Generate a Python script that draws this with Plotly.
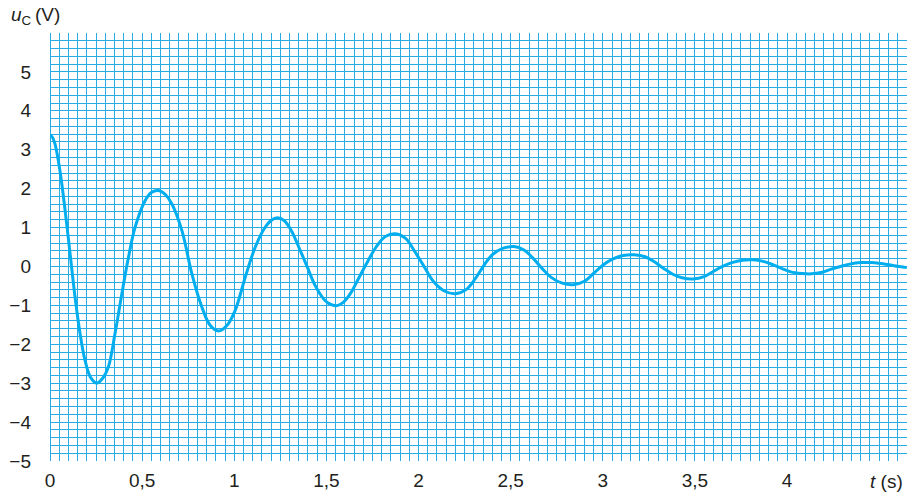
import plotly.graph_objects as go

# time (s) and capacitor voltage (V)
t_s = [0.00, 0.013, 0.027, 0.054, 0.082, 0.109, 0.136, 0.163, 0.19, 0.22, 0.254, 0.285, 0.317,
       0.353, 0.39, 0.426, 0.462, 0.516, 0.55, 0.589, 0.625, 0.661, 0.716, 0.77, 0.824,
       0.87, 0.915, 0.96, 1.005, 1.06, 1.11, 1.16, 1.20, 1.234, 1.27, 1.31, 1.35, 1.395,
       1.44, 1.49, 1.52, 1.554, 1.59, 1.63, 1.67, 1.715, 1.77, 1.82, 1.875, 1.93, 1.98,
       2.03, 2.08, 2.14, 2.20, 2.26, 2.31, 2.355, 2.40, 2.46, 2.518, 2.57, 2.62, 2.67,
       2.72, 2.78, 2.84, 2.90, 2.95, 3.00, 3.05, 3.11, 3.17, 3.23, 3.28, 3.33, 3.38, 3.43,
       3.49, 3.55, 3.60, 3.65, 3.70, 3.76, 3.815, 3.87, 3.92, 3.97, 4.02, 4.08, 4.13,
       4.19, 4.24, 4.29, 4.34, 4.40, 4.46, 4.52, 4.58, 4.65]
u_c = [3.38, 3.32, 3.15, 2.46, 1.44, 0.33, -0.79, -1.72, -2.41, -2.85, -3.00, -2.88, -2.58,
       -1.72, -0.70, 0.24, 1.01, 1.69, 1.90, 1.95, 1.85, 1.61, 0.92, -0.19, -1.04,
       -1.52, -1.66, -1.52, -1.13, -0.27, 0.45, 0.95, 1.18, 1.25, 1.18, 0.92, 0.50, 0.00,
       -0.50, -0.86, -0.97, -1.01, -0.93, -0.70, -0.35, 0.05, 0.50, 0.77, 0.84, 0.72, 0.38,
       0.00, -0.38, -0.63, -0.70, -0.59, -0.30, 0.03, 0.30, 0.47, 0.51, 0.43, 0.22, -0.05,
       -0.28, -0.43, -0.47, -0.38, -0.18, 0.03, 0.18, 0.28, 0.30, 0.25, 0.12, -0.05, -0.20, -0.29,
       -0.32, -0.26, -0.13, 0.00, 0.10, 0.16, 0.17, 0.13, 0.05, -0.05, -0.14, -0.18, -0.19,
       -0.15, -0.07, 0.00, 0.06, 0.10, 0.10, 0.07, 0.02, -0.03]

# axis ranges, tick labels and grid steps
x_range = [0, 4.651]
y_range = [-5, 6]
x_tickvals = [0, 0.5, 1, 1.5, 2, 2.5, 3, 3.5, 4]
x_ticktext = ["0", "0,5", "1", "1,5", "2", "2,5", "3", "3,5", "4"]
y_tickvals = [-5, -4, -3, -2, -1, 0, 1, 2, 3, 4, 5]
y_ticktext = ["\u22125", "\u22124", "\u22123", "\u22122", "\u22121", "0", "1", "2", "3", "4", "5"]
x_grid_step = 0.05
y_grid_step = 0.2

GRID = "#2aaae2"
CURVE = "#00aeef"
TEXT = "#231f20"
FONT = "Liberation Sans, Arial, sans-serif"

fig = go.Figure()
# grid-carrying overlay subplot (invisible copy of the data)
fig.add_trace(go.Scatter(x=t_s, y=u_c, xaxis="x2", yaxis="y2", mode="lines",
                         line=dict(width=0), opacity=0, hoverinfo="skip", showlegend=False))
# the curve
fig.add_trace(go.Scatter(x=t_s, y=u_c, mode="lines",
                         line=dict(color=CURVE, width=3, shape="spline", smoothing=1.0),
                         hoverinfo="skip", showlegend=False))

fig.update_layout(
    width=907, height=496,
    margin=dict(l=50, r=0, t=33, b=35),
    paper_bgcolor="white", plot_bgcolor="white",
    font=dict(family=FONT, size=19, color=TEXT),
    showlegend=False,
    xaxis=dict(range=x_range, tickvals=x_tickvals, ticktext=x_ticktext,
               showgrid=False, zeroline=False, showline=False, ticks="",
               ticklabelstandoff=6, fixedrange=True),
    yaxis=dict(range=y_range, tickvals=y_tickvals, ticktext=y_ticktext,
               showgrid=False, zeroline=False, showline=False, ticks="",
               ticklabelstandoff=18, fixedrange=True),
    xaxis2=dict(range=x_range, overlaying="x", anchor="y2", side="bottom",
                tickmode="linear", tick0=0, dtick=x_grid_step, showticklabels=False,
                showgrid=True, gridcolor=GRID, gridwidth=1.4, zeroline=False,
                showline=False, ticks="", fixedrange=True),
    yaxis2=dict(range=y_range, overlaying="y", anchor="x2", side="left",
                tickmode="linear", tick0=0, dtick=y_grid_step, showticklabels=False,
                showgrid=True, gridcolor=GRID, gridwidth=1.4, zeroline=False,
                showline=False, ticks="", fixedrange=True),
    shapes=[
        dict(type="line", xref="x", yref="paper", x0=0, x1=0, y0=0, y1=1,
             line=dict(color=GRID, width=2), layer="below"),
    ],
    annotations=[
        dict(text="<i>u</i><sub>C</sub>\u2009(V)", xref="paper", yref="paper",
             x=-50/857, y=1 + 33/428, xanchor="left", yanchor="top",
             xshift=9, yshift=-2, showarrow=False, font=dict(size=19, family=FONT, color=TEXT)),
        dict(text="<i>t</i> (s)", xref="paper", yref="paper",
             x=1, y=0, xanchor="right", yanchor="top", xshift=-2, yshift=-8,
             showarrow=False, font=dict(size=19, family=FONT, color=TEXT)),
    ],
)

fig.write_html("out.html", config={"displayModeBar": False},
               post_script="document.body.style.margin='0';document.body.style.padding='0';")
